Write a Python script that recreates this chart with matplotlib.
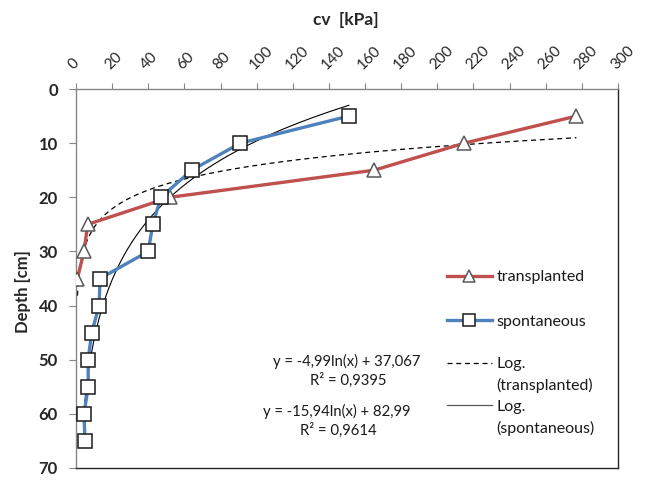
import numpy as np
import matplotlib
matplotlib.use("Agg")
import matplotlib.pyplot as plt
from matplotlib.lines import Line2D

plt.rcParams['font.family'] = ['Lato', 'DejaVu Sans']

# ---- data ----
depth_trans = [5, 10, 15, 20, 25, 30, 35]
cv_trans = [277, 215, 165, 52, 6.5, 4.4, 0.8]
depth_spont = [5, 10, 15, 20, 25, 30, 35, 40, 45, 50, 55, 60, 65]
cv_spont = [151, 91, 64, 47, 42.5, 40, 13.3, 12.8, 8.7, 6.7, 6.8, 4.4, 5.0]

# logarithmic trendline coefficients (depth = a*ln(cv) + b)
trend_trans_a, trend_trans_b, r2_trans = -4.99, 37.067, 0.9395
trend_spont_a, trend_spont_b, r2_spont = -15.94, 82.99, 0.9614

x_ticks = list(range(0, 301, 20))
y_ticks = list(range(0, 71, 10))

# ---- figure ----
W, H = 652, 483
fig = plt.figure(figsize=(W / 100, H / 100), dpi=100)
ax = fig.add_axes([76 / W, 1 - 468 / H, (618 - 76) / W, (468 - 89) / H])

red = '#C0504D'
blue = '#4F81BD'
txt = '#1a1a1a'

ax.plot(cv_trans, depth_trans, color=red, lw=2.4, marker='^', ms=10,
        mfc='white', mec='#595959', mew=1.1, zorder=3, label='transplanted')
ax.plot(cv_spont, depth_spont, color=blue, lw=2.4, marker='s', ms=9.5,
        mfc='white', mec='#1a1a1a', mew=1.1, zorder=3, label='spontaneous')

xt = np.geomspace(min(cv_trans), max(cv_trans), 400)
ax.plot(xt, trend_trans_a * np.log(xt) + trend_trans_b, color='black',
        lw=0.9, ls=(0, (4, 3)), zorder=2.5)
xs = np.geomspace(min(cv_spont), max(cv_spont), 400)
ax.plot(xs, trend_spont_a * np.log(xs) + trend_spont_b, color='black',
        lw=0.8, zorder=2.5)

ax.set_xlim(0, 300)
ax.set_ylim(70, 0)
ax.xaxis.tick_top()
ax.set_xticks(x_ticks)
ax.set_yticks(y_ticks)
ax.set_xticklabels([str(v) for v in x_ticks], rotation=45, ha='left',
                   va='bottom', rotation_mode='anchor', fontsize=11,
                   color='#262626')
ax.set_yticklabels([str(v) for v in y_ticks], fontsize=12,
                   fontweight='bold', color='#262626')
ax.tick_params(axis='x', direction='out', length=4.5, width=0.8,
               color='#868686', pad=8)
ax.tick_params(axis='y', direction='out', length=5, width=0.8,
               color='#868686', pad=8)

for s in ['left', 'top']:
    ax.spines[s].set_color('#868686')
    ax.spines[s].set_linewidth(1.0)
for s in ['right', 'bottom']:
    ax.spines[s].set_color('#262626')
    ax.spines[s].set_linewidth(1.0)

fig.text(346 / W, 1 - 20 / H, 'cv  [kPa]', ha='center', va='center',
         fontsize=12.5, fontweight='bold', color='#262626')
fig.text(23 / W, 1 - 292 / H, 'Depth [cm]', ha='center', va='center',
         rotation=90, fontsize=12, fontweight='bold', color='#262626')

# equations
eq1 = f'y = {trend_trans_a:.2f}ln(x) + {trend_trans_b:.3f}'.replace('.', ',')
r1 = f'R² = {r2_trans:.4f}'.replace('.', ',')
eq2 = f'y = {trend_spont_a:.2f}ln(x) + {trend_spont_b:.2f}'.replace('.', ',')
r2 = f'R² = {r2_spont:.4f}'.replace('.', ',')
fs_eq = 10.7
fig.text(347 / W, 1 - 361 / H, eq1, ha='center', va='center', fontsize=fs_eq,
         color=txt)
fig.text(348 / W, 1 - 380 / H, r1, ha='center', va='center', fontsize=fs_eq,
         color=txt)
fig.text(337 / W, 1 - 411 / H, eq2, ha='center', va='center', fontsize=fs_eq,
         color=txt)
fig.text(338 / W, 1 - 430 / H, r2, ha='center', va='center', fontsize=fs_eq,
         color=txt)

# legends
fs_leg = 11.5
h1 = Line2D([], [], color=red, lw=2.4, marker='^', ms=8.5, mfc='white',
            mec='#595959', mew=1.1)
h2 = Line2D([], [], color=blue, lw=2.4, marker='s', ms=8, mfc='white',
            mec='#1a1a1a', mew=1.1)
leg1 = ax.legend([h1, h2], ['transplanted', 'spontaneous'], loc='upper left',
                 bbox_to_anchor=(447 / W, 1 - 270 / H),
                 bbox_transform=fig.transFigure, frameon=False, fontsize=fs_leg,
                 borderpad=0, borderaxespad=0, handlelength=2.8,
                 handletextpad=0.3, labelspacing=1.9, numpoints=1)
for t in leg1.get_texts():
    t.set_color(txt)
ax.add_artist(leg1)
h3 = Line2D([], [], color='black', lw=0.9, ls=(0, (4, 3)))
h4 = Line2D([], [], color='#595959', lw=0.9)
hb = Line2D([], [], color='none')
leg2 = ax.legend([h3, hb, h4, hb],
                 ['Log.', '(transplanted)', 'Log.', '(spontaneous)'],
                 loc='upper left', bbox_to_anchor=(447 / W, 1 - 357 / H),
                 bbox_transform=fig.transFigure, frameon=False, fontsize=fs_leg,
                 borderpad=0, borderaxespad=0, handlelength=2.8,
                 handletextpad=0.3, labelspacing=0.42)
for t in leg2.get_texts():
    t.set_color(txt)

fig.savefig('out.png', dpi=100)
